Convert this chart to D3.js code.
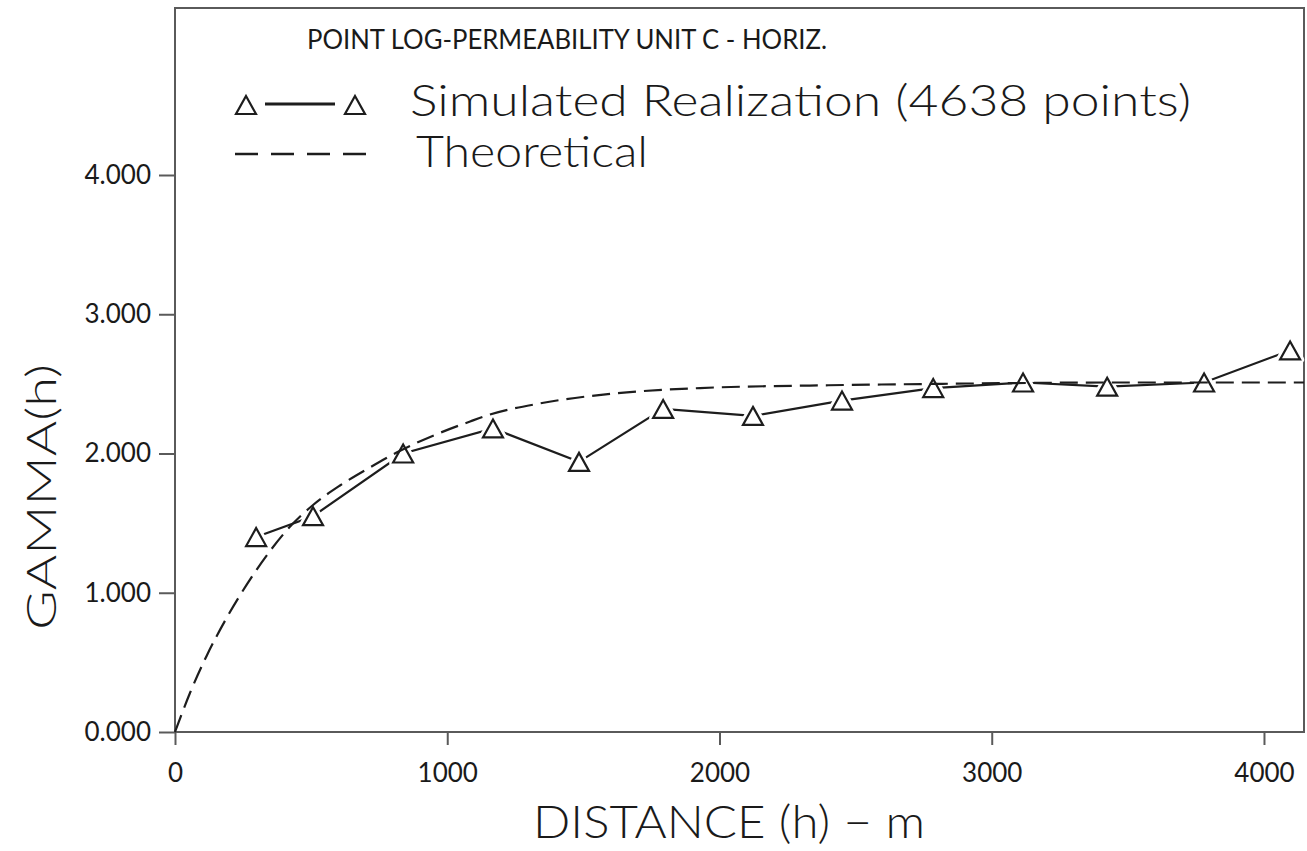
<!DOCTYPE html>
<html>
<head>
<meta charset="utf-8">
<script src="https://cdn.jsdelivr.net/npm/d3@7"></script>
<style>
  html, body { margin: 0; padding: 0; background: #fff; }
  svg { display: block; }
  text { font-family: "Lato", "Liberation Sans", Arial, sans-serif; fill: #1a1a1a; }
  .light { font-weight: 300; }
</style>
</head>
<body>
<svg id="chart" width="1307" height="851"></svg>
<script>
// Experimental variogram of the simulated field: lag distance (m) and gamma(h)
const lagDistance = [298, 507, 838, 1168, 1484, 1793, 2123, 2450, 2785, 3115, 3424, 3780, 4096];
const gammaSimulated = [1.40, 1.55, 2.00, 2.18, 1.94, 2.32, 2.27, 2.38, 2.47, 2.51, 2.48, 2.51, 2.74];

// Fitted model variogram, sampled along the distance axis
const modelDistance = [0, 55, 117, 184, 264, 349, 411, 507, 606, 716, 827, 963, 1084, 1157, 1341, 1609, 1929, 2400, 2800, 3500, 4147];
const gammaModel    = [0, 0.28, 0.55, 0.80, 1.06, 1.30, 1.45, 1.63, 1.77, 1.90, 2.02, 2.14, 2.23, 2.28, 2.36, 2.43, 2.47, 2.49, 2.50, 2.51, 2.51];

const xTicks = [0, 1000, 2000, 3000, 4000];
const yTicks = [0, 1, 2, 3, 4];

const titleText = "POINT LOG-PERMEABILITY UNIT C - HORIZ.";
const legendLabels = ["Simulated Realization (4638 points)", "Theoretical"];
const xTitle = "DISTANCE (h) \u2212 m";
const yTitle = "GAMMA(h)";

const svg = d3.select("#chart");
const plotLeft = 175, plotRight = 1304, plotTop = 8, plotBottom = 732;

const x = d3.scaleLinear().domain([0, 4147]).range([plotLeft, plotRight]);
const y = d3.scaleLinear().domain([0, 4]).range([plotBottom, 175]);

const ink = "#1d1d1d";
const frameInk = "#5a5a5a";

// plot frame
svg.append("rect")
  .attr("x", plotLeft).attr("y", plotTop)
  .attr("width", plotRight - plotLeft).attr("height", plotBottom - plotTop)
  .attr("fill", "none").attr("stroke", frameInk).attr("stroke-width", 2);

// axes
const yAxis = svg.append("g")
  .attr("transform", `translate(${plotLeft},0)`)
  .call(d3.axisLeft(y).tickValues(yTicks).tickFormat(d3.format(".3f")).tickSize(16).tickPadding(8));
const xAxis = svg.append("g")
  .attr("transform", `translate(0,${plotBottom})`)
  .call(d3.axisBottom(x).tickValues(xTicks).tickFormat(d3.format("d")).tickSize(13).tickPadding(19));

[yAxis, xAxis].forEach(g => {
  g.select(".domain").remove();
  g.selectAll(".tick line").attr("stroke", frameInk).attr("stroke-width", 2);
  g.selectAll(".tick text")
    .attr("fill", ink)
    .style("font-family", "'Lato', 'Liberation Sans', Arial, sans-serif")
    .style("font-size", "26px");
});

// model curve (dashed)
const modelLine = d3.line()
  .x((d, i) => x(modelDistance[i]))
  .y(d => y(d))
  .curve(d3.curveMonotoneX);

// experimental points joined by solid segments
const simLine = d3.line()
  .x((d, i) => x(lagDistance[i]))
  .y(d => y(d));

svg.append("path")
  .datum(gammaSimulated)
  .attr("d", simLine)
  .attr("fill", "none")
  .attr("stroke", ink)
  .attr("stroke-width", 2.2);

const triW = 20, triH = 18;
const triPath = `M0,${-triH / 2}L${triW / 2},${triH / 2}L${-triW / 2},${triH / 2}Z`;

const marks = svg.append("g");
marks.selectAll("path.halo")
  .data(gammaSimulated)
  .join("path")
  .attr("class", "halo")
  .attr("d", triPath)
  .attr("transform", (d, i) => `translate(${x(lagDistance[i])},${y(d)})`)
  .attr("fill", "#fff")
  .attr("stroke", "#fff")
  .attr("stroke-width", 8)
  .attr("stroke-linejoin", "round");
marks.selectAll("path.tri")
  .data(gammaSimulated)
  .join("path")
  .attr("class", "tri")
  .attr("d", triPath)
  .attr("transform", (d, i) => `translate(${x(lagDistance[i])},${y(d)})`)
  .attr("fill", "none")
  .attr("stroke", ink)
  .attr("stroke-width", 2.2);

svg.append("path")
  .datum(gammaModel)
  .attr("d", modelLine)
  .attr("fill", "none")
  .attr("stroke", ink)
  .attr("stroke-width", 2.2)
  .attr("stroke-dasharray", "18,8");

// title
svg.append("text")
  .attr("x", 307).attr("y", 49)
  .attr("textLength", 520).attr("lengthAdjust", "spacingAndGlyphs")
  .style("font-size", "26px")
  .text(titleText);

// legend
const legend = svg.append("g");
legend.append("line")
  .attr("x1", 265).attr("x2", 335).attr("y1", 104).attr("y2", 104)
  .attr("stroke", ink).attr("stroke-width", 3);
[246, 355].forEach(cx => {
  legend.append("path")
    .attr("d", triPath)
    .attr("transform", `translate(${cx},105)`)
    .attr("fill", "none").attr("stroke", ink).attr("stroke-width", 2.2);
});
legend.append("line")
  .attr("x1", 235).attr("x2", 373).attr("y1", 154).attr("y2", 154)
  .attr("stroke", ink).attr("stroke-width", 2.5)
  .attr("stroke-dasharray", "23,13");
legend.append("text")
  .attr("class", "light")
  .attr("x", 410).attr("y", 116)
  .attr("textLength", 781).attr("lengthAdjust", "spacingAndGlyphs")
  .style("font-size", "44px")
  .text(legendLabels[0]);
legend.append("text")
  .attr("class", "light")
  .attr("x", 416).attr("y", 167)
  .attr("textLength", 232).attr("lengthAdjust", "spacingAndGlyphs")
  .style("font-size", "44px")
  .text(legendLabels[1]);

// axis titles
svg.append("text")
  .attr("class", "light")
  .attr("x", 729).attr("y", 838)
  .attr("text-anchor", "middle")
  .attr("textLength", 392).attr("lengthAdjust", "spacingAndGlyphs")
  .style("font-size", "46px")
  .text(xTitle);

svg.append("text")
  .attr("class", "light")
  .attr("transform", "translate(56,497) rotate(-90)")
  .attr("text-anchor", "middle")
  .attr("textLength", 266).attr("lengthAdjust", "spacingAndGlyphs")
  .style("font-size", "42px")
  .text(yTitle);
</script>
</body>
</html>
